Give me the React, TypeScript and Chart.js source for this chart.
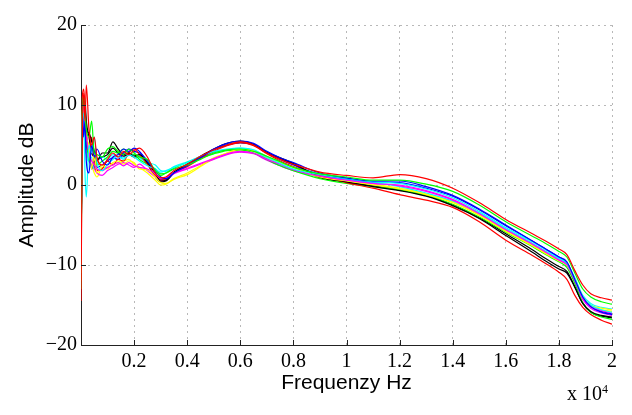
import React, { useEffect, useRef } from "react";
import { Chart, registerables } from "chart.js";

Chart.register(...registerables);

// Frequency axis (Hz)
const freqs = [
  0, 50, 100, 150, 200, 300, 400, 500, 600, 800,
  1000, 1200, 1400, 1600, 1800, 2000, 2200, 2500, 2800, 3000,
  3200, 3500, 4000, 4500, 5000, 5500, 6000, 6500, 7000, 7500,
  8000, 9000, 10000, 11000, 12000, 13000, 14000, 15000, 16000, 17000,
  17500, 18000, 18300, 18600, 18900, 19200, 19600, 20000,
];

// Amplitude (dB) per measurement
const r1 = [-14.5, 6, 11.5, 8, 12.5, 7, 5, 6, 3.5, 2.5, 3.2, 4.0, 3.5, 4.2, 3.8, 4.3, 4.6, 3.5, 1.5, 0.9, 1.0, 1.8, 2.6, 3.6, 4.4, 5.0, 5.4, 5.0, 4.0, 3.2, 2.6,
  1.6, 1.2, 0.9, 1.3, 0.8, -0.4, -2.2, -4.3, -6.1, -7.0, -8.0, -8.7, -10.7, -12.5, -13.6, -14.1, -14.4];
const g1 = [-13, 8, 11, 9, 7, 6, 8, 4, 3.8, 3.5, 4.5, 4.8, 4.2, 3.8, 4.5, 4.0, 3.5, 3.2, 1.8, 1.2, 1.5, 2.0, 2.5, 3.2, 4.0, 4.4, 4.5, 4.2, 3.6, 2.9, 2.2,
  1.4, 1.0, 0.6, 0.6, 0.1, -0.8, -2.5, -4.6, -6.4, -7.3, -8.3, -9.0, -11.0, -13.0, -14.0, -14.6, -14.9];
const b1 = [-9, 9, 6, 8, 3, 1.5, 5, 3.5, 4.5, 3.0, 2.5, 3.5, 3.8, 4.5, 4.2, 4.6, 4.2, 3.0, 1.8, 1.0, 0.8, 1.5, 2.4, 3.4, 4.5, 5.2, 5.5, 5.2, 4.2, 3.4, 2.8,
  1.5, 0.9, 0.5, 0.5, -0.2, -1.3, -3.0, -5.0, -7.0, -8.0, -9.0, -9.6, -11.8, -14.0, -15.2, -15.9, -16.2];
const c1 = [-10, 7, 9, 1.5, -1.5, 5, 4, 6, 3, 1.8, 2.6, 3.2, 3.6, 3.2, 3.8, 3.5, 3.0, 2.4, 2.0, 1.6, 1.8, 2.2, 2.8, 3.6, 4.2, 4.5, 4.6, 4.4, 3.5, 2.7, 2.0,
  1.3, 0.8, 0.4, 0.2, -0.5, -1.6, -3.3, -5.3, -7.1, -8.1, -9.1, -9.7, -11.8, -14.0, -15.0, -15.6, -15.9];
const m1 = [-8, 8, 10, 7, 6, 4, 3, 2.5, 2.0, 1.8, 2.2, 2.5, 2.8, 2.4, 2.8, 2.4, 2.2, 2.0, 1.4, 0.8, 0.9, 1.5, 2.1, 2.7, 3.3, 3.9, 4.2, 4.0, 3.2, 2.6, 1.9,
  1.1, 0.6, 0.2, -0.1, -0.8, -1.9, -3.6, -5.6, -7.4, -8.4, -9.4, -10.0, -12.0, -14.2, -15.2, -15.7, -16.0];
const y1 = [-11, 10, 9, 8, 6, 5, 2, 4, 1.5, 2.5, 2.0, 2.8, 3.0, 2.6, 3.0, 2.8, 2.0, 1.9, 1.0, 0.3, 0.2, 0.8, 1.5, 2.4, 3.4, 4.0, 4.5, 4.3, 3.6, 2.8, 2.2,
  1.0, 0.5, 0.0, -0.5, -1.2, -2.2, -3.8, -5.8, -7.6, -8.6, -9.5, -10.0, -11.8, -14.0, -15.0, -15.4, -15.6];
const k1 = [-10, 8, 10.5, 10, 7, 6.5, 5.5, 4.2, 3.0, 4.0, 4.0, 5.4, 4.5, 3.8, 4.0, 3.6, 3.8, 2.8, 1.5, 0.5, 0.6, 1.6, 2.6, 3.6, 4.5, 5.2, 5.5, 5.1, 4.1, 3.4, 2.7,
  1.0, 0.4, -0.2, -0.7, -1.4, -2.6, -4.2, -6.3, -8.4, -9.5, -10.5, -11.0, -12.8, -14.8, -15.8, -16.3, -16.5];
const r2 = [-12, 11, 12, 10, 7, 4, 6, 2.5, 1.8, 2.0, 3.0, 2.5, 3.2, 3.0, 4.0, 4.5, 3.8, 2.6, 1.2, 0.6, 0.8, 1.5, 2.3, 3.3, 4.2, 4.9, 5.3, 4.9, 3.9, 3.0, 2.3,
  1.2, 0.3, -0.4, -1.2, -1.9, -2.8, -4.6, -6.9, -8.8, -9.8, -10.9, -11.8, -13.8, -15.3, -16.2, -16.9, -17.4];
const g2 = [-9, 9, 11, 8, 6, 3, 4.5, 4, 2.5, 3.0, 3.5, 4.2, 4.0, 4.5, 4.0, 3.8, 3.2, 2.6, 2.0, 1.4, 1.5, 2.1, 2.8, 3.4, 3.9, 4.3, 4.4, 4.0, 3.2, 2.4, 1.8,
  0.8, 0.2, -0.2, -0.6, -1.3, -2.4, -4.0, -5.9, -7.7, -8.7, -9.6, -10.3, -12.3, -14.7, -15.9, -16.5, -16.8];
const b2 = [-10, 7, 8, 9, 5, 4, 2, 3, 2.2, 2.5, 3.0, 3.4, 3.2, 4.0, 4.5, 4.2, 4.0, 3.0, 1.5, 0.7, 0.8, 1.6, 2.5, 3.5, 4.4, 5.0, 5.3, 5.0, 4.0, 3.2, 2.5,
  1.3, 0.8, 0.4, 0.3, -0.4, -1.4, -3.1, -5.1, -7.0, -8.0, -9.0, -9.7, -11.9, -14.1, -15.2, -15.8, -16.1];
const c2 = [-9, 8, 6, 7, 4, 3, 3.5, 2, 3.0, 3.5, 3.2, 3.8, 3.5, 3.4, 3.7, 3.8, 3.4, 2.8, 2.5, 1.8, 1.7, 2.3, 2.9, 3.5, 4.1, 4.4, 4.6, 4.3, 3.3, 2.5, 1.9,
  1.2, 0.7, 0.3, -0.2, -1.0, -2.0, -3.5, -5.5, -7.3, -8.3, -9.2, -9.8, -11.6, -13.8, -14.8, -15.3, -15.5];
const m2 = [-11, 9, 7, 5, 4, 3, 2.5, 2, 1.5, 1.2, 1.8, 2.2, 2.6, 2.8, 2.5, 2.2, 2.6, 1.8, 1.0, 0.5, 0.7, 1.4, 2.0, 2.6, 3.2, 3.8, 4.1, 3.9, 3.1, 2.4, 1.8,
  1.1, 0.6, 0.2, 0.0, -0.7, -1.8, -3.5, -5.5, -7.3, -8.3, -9.3, -9.9, -12.0, -14.3, -15.4, -16.0, -16.3];
const y2 = [-10, 9, 8, 6, 4, 3, 2.5, 1.5, 1.0, 2.2, 2.2, 2.6, 2.8, 3.0, 3.2, 2.6, 2.2, 1.5, 0.6, 0.0, 0.1, 0.7, 1.3, 2.3, 3.3, 4.0, 4.4, 4.2, 3.4, 2.6, 2.0,
  1.0, 0.5, 0.1, -0.4, -1.1, -2.1, -3.7, -5.7, -7.5, -8.5, -9.4, -9.9, -11.8, -14.0, -15.1, -15.6, -15.8];
const k2 = [-11, 10, 9, 10.5, 8, 6, 4, 3.5, 3.2, 3.5, 3.8, 4.6, 4.0, 3.6, 3.8, 3.5, 3.5, 2.6, 1.0, 0.4, 0.5, 1.5, 2.5, 3.5, 4.4, 5.0, 5.3, 5.0, 4.0, 3.3, 2.6,
  0.9, 0.4, -0.1, -0.6, -1.3, -2.5, -4.1, -6.1, -8.1, -9.2, -10.2, -10.8, -12.7, -14.8, -15.9, -16.4, -16.6];

const seriesList = [r1, g1, b1, c1, m1, y1, k1, r2, g2, b2, c2, m2, y2, k2];
const seriesColors = [
  "#ff0000", "#00ff00", "#0000ff", "#00ffff", "#ff00ff", "#ffff00", "#000000",
  "#ff0000", "#00ff00", "#0000ff", "#00ffff", "#ff00ff", "#ffff00", "#000000",
];

const xTickValues = [2000, 4000, 6000, 8000, 10000, 12000, 14000, 16000, 18000, 20000];
const yTickValues = [-20, -10, 0, 10, 20];
const xTitle = "Frequenzy Hz";
const yTitle = "Amplitude dB";

const decorPlugin = {
  id: "decor",
  afterDraw(chart: any) {
    const { ctx, chartArea } = chart;
    const xs = chart.scales.x;
    const ys = chart.scales.y;
    ctx.save();
    ctx.strokeStyle = "#222";
    ctx.lineWidth = 1;
    ctx.beginPath();
    for (const v of [0, ...xTickValues]) {
      const px = Math.round(xs.getPixelForValue(v)) + 0.5;
      ctx.moveTo(px, chartArea.bottom);
      ctx.lineTo(px, chartArea.bottom - 5);
    }
    for (const v of yTickValues) {
      const py = Math.round(ys.getPixelForValue(v)) + 0.5;
      ctx.moveTo(chartArea.left, py);
      ctx.lineTo(chartArea.left + 5, py);
    }
    ctx.stroke();

    ctx.fillStyle = "#000";
    ctx.font = "21px 'Liberation Sans', Arial, sans-serif";
    ctx.textAlign = "center";
    ctx.textBaseline = "middle";
    ctx.fillText(xTitle, (chartArea.left + chartArea.right) / 2, 383);
    ctx.save();
    ctx.translate(27, (chartArea.top + chartArea.bottom) / 2);
    ctx.rotate(-Math.PI / 2);
    ctx.fillText(yTitle, 0, 0);
    ctx.restore();

    ctx.textAlign = "left";
    ctx.textBaseline = "alphabetic";
    ctx.font = "20px 'Liberation Serif', 'Times New Roman', serif";
    ctx.fillText("x 10", 567, 400);
    ctx.font = "12px 'Liberation Serif', 'Times New Roman', serif";
    ctx.fillText("4", 602, 393);
    ctx.restore();
  },
};

export default function App() {
  const ref = useRef<HTMLCanvasElement>(null);
  useEffect(() => {
    if (!ref.current) return;
    const chart = new Chart(ref.current, {
      type: "line",
      data: {
        datasets: seriesList.map((s, i) => ({
          data: s.map((v, j) => ({ x: freqs[j], y: v })),
          borderColor: seriesColors[i],
          borderWidth: 1.2,
          pointRadius: 0,
          fill: false,
          cubicInterpolationMode: "monotone" as const,
        })),
      },
      options: {
        animation: false,
        responsive: false,
        devicePixelRatio: 1,
        layout: { padding: { left: 0, top: 25, right: 20, bottom: 0 } },
        plugins: { legend: { display: false }, tooltip: { enabled: false } },
        scales: {
          x: {
            type: "linear",
            min: 0,
            max: 20000,
            afterFit: (s: any) => { s.height = 70; },
            afterBuildTicks: (s: any) => { s.ticks = [0, ...xTickValues].map((v) => ({ value: v })); },
            ticks: {
              color: "#000",
              padding: 5,
              maxRotation: 0,
              autoSkip: false,
              font: { family: "'Liberation Serif', 'Times New Roman', serif", size: 20 },
              callback: (v: any) => (v === 0 ? "" : String(Number(v) / 10000)),
            },
            grid: { color: "#b8b8b8", drawTicks: false, lineWidth: 1 },
            border: { display: true, color: "#222", width: 1, dash: [2, 4] },
          },
          y: {
            type: "linear",
            min: -20,
            max: 20,
            afterFit: (s: any) => { s.width = 81; },
            afterBuildTicks: (s: any) => { s.ticks = yTickValues.map((v) => ({ value: v })); },
            ticks: {
              color: "#000",
              padding: 4,
              font: { family: "'Liberation Serif', 'Times New Roman', serif", size: 20 },
              callback: (v: any) => (Number(v) < 0 ? "\u2212" + Math.abs(Number(v)) : String(v)),
            },
            grid: { color: "#b8b8b8", drawTicks: false, lineWidth: 1 },
            border: { display: true, color: "#222", width: 1, dash: [2, 4] },
          },
        },
      },
      plugins: [decorPlugin],
    });
    return () => chart.destroy();
  }, []);
  return (
    <div style={{ position: "fixed", left: 0, top: 0, width: 632, height: 415, background: "#fff" }}>
      <canvas ref={ref} width={632} height={415} style={{ display: "block" }} />
    </div>
  );
}
